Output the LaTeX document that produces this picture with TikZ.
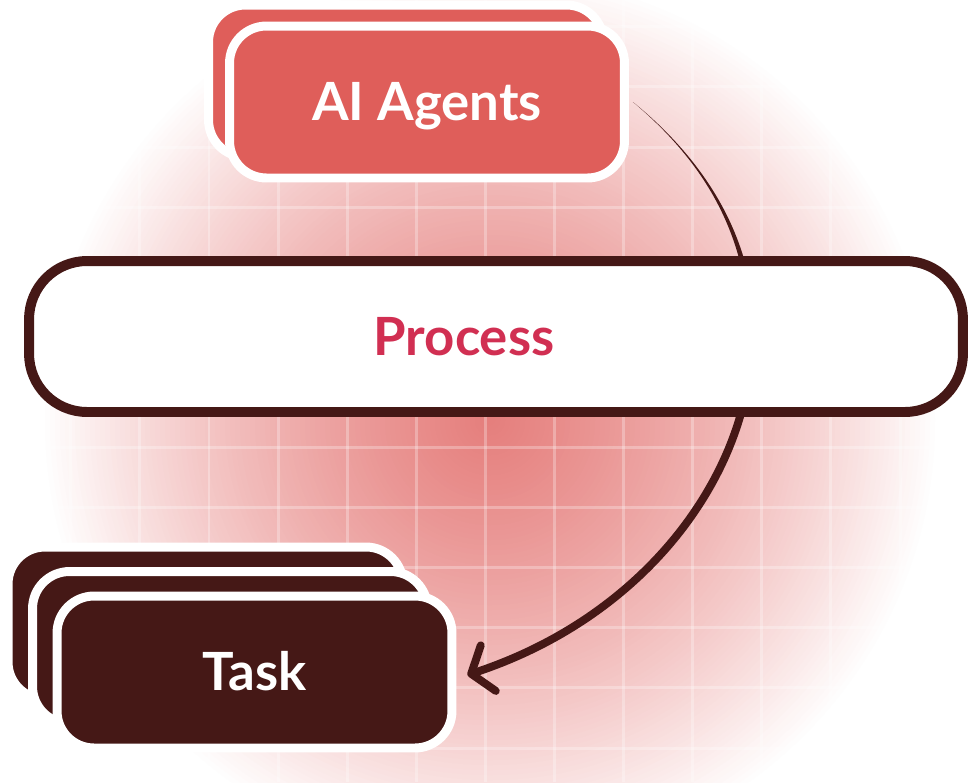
\documentclass[tikz,border=0pt]{standalone}
\usepackage{fontspec}
\setmainfont{Lato}
\usepackage{xcolor}
\usepackage{tikz}
\usetikzlibrary{calc}
\usetikzlibrary{arrows.meta}

\definecolor{ink}{RGB}{69,24,22}
\definecolor{agentred}{RGB}{223,94,90}
\definecolor{processred}{RGB}{209,47,82}
\definecolor{glowA}{RGB}{229,126,124}

\begin{document}
\begin{tikzpicture}[x=0.02cm, y=-0.02cm,
        card/.style={rectangle, rounded corners=0.74cm, draw=white, line width=5.1pt, minimum width=7.9cm, minimum height=3.04cm, text=white, font=\bfseries\fontsize{30}{36}\selectfont, text height=21.5pt, text depth=0pt},
        agent/.style={card, fill=agentred},
        task/.style={card, fill=ink},
        processbox/.style={rectangle, rounded corners=1.16cm, draw=ink, fill=white, line width=5.67pt, minimum width=18.68cm, minimum height=3.02cm},
        processtext/.style={text=processred, font=\bfseries\fontsize{30}{36}\selectfont, text height=21.5pt, text depth=0pt},
        gridline/.style={white, opacity=0.28, line width=1.7pt},
        flow/.style={ink, line width=4.5pt, -{Straight Barb[length=3.6mm, width=9.6mm, round]}}
    ]
    \useasboundingbox (0,0) rectangle (977,782);

    % glow behind everything
    \foreach \i in {0,...,89} {
        \pgfmathsetmacro\rad{450-5*\i}
        \pgfmathsetmacro\mix{100*(1-\rad/450)*(1+0.35*\rad/450)}
        \fill[glowA!\mix!white] (490,420) circle (\rad);
    }
    \foreach \k in {-3,...,11}
        \draw[gridline] ({209+69.1*\k},0) -- ({209+69.1*\k},782);
    \foreach \k in {-2,...,10}
        \draw[gridline] (0,{147+60.1*\k}) -- (977,{147+60.1*\k});

    \node[agent] (agents-back) at (406,81) {};
    \node[agent] (agents) at (427,102) {AI Agents};

    \node[task] (tasks-back) at (205.5,623) {};
    \node[task] (tasks-mid) at (230,647.5) {};
    \node[task] (tasks) at (254.5,672) {Task};

    \coordinate (agents-out) at ($(agents.east)+(4,0)$);
    \coordinate (bend) at (752,336);
    \coordinate (tasks-in) at ($(tasks.east)+(11,3)$);

    \fill[ink] (agents-out) .. controls +(80,65) and +(0,-90) .. ($(bend)+(3,0)$) -- ($(bend)+(-3,0)$) .. controls +(0,-90) and +(80,67) .. (agents-out);
    \draw[flow] (bend) .. controls +(0,134) and +(182,-60) .. (tasks-in);

    \node[processbox, label={[processtext, xshift=-0.64cm]center:Process}] (process) at (496,336.5) {};
\end{tikzpicture}
\end{document}
